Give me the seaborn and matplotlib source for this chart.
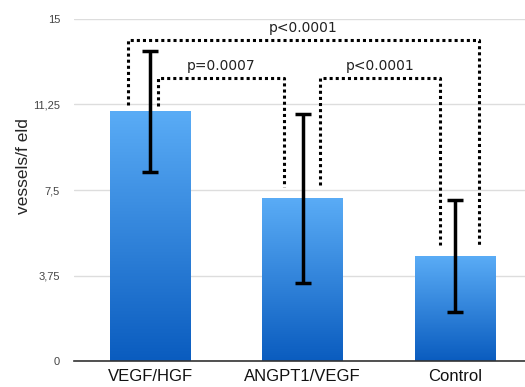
import numpy as np
import pandas as pd
import matplotlib
matplotlib.use("Agg")
import matplotlib.pyplot as plt
import seaborn as sns
from matplotlib.colors import LinearSegmentedColormap

groups = ["VEGF/HGF", "ANGPT1/VEGF", "Control"]
means = [10.95, 7.13, 4.6]
errors = [2.65, 3.7, 2.45]
yticks = [0, 3.75, 7.5, 11.25, 15]
ytick_labels = ["0", "3,75", "7,5", "11,25", "15"]

# comparisons: (left x, right x, left leg bottom, right leg bottom, top, label)
brackets = [
    (-0.143, 2.156, 11.23, 5.09, 14.08, "p<0.0001"),
    (0.05, 0.877, 11.18, 7.64, 12.43, "p=0.0007"),
    (1.112, 1.901, 7.72, 5.09, 12.43, "p<0.0001"),
]

sns.set_style("white")
plt.rcParams['font.family'] = ['Liberation Sans', 'DejaVu Sans']

fig = plt.figure(figsize=(5.25, 3.87), dpi=100)
ax = fig.add_axes([0.141, 0.067, 0.859, 0.884])

df = pd.DataFrame({"group": groups, "mean": means})
sns.barplot(data=df, x="group", y="mean", ax=ax, width=0.526,
            color="#2f86e0", saturation=1, errorbar=None, zorder=2)

# gradient fill on each bar
cmap = LinearSegmentedColormap.from_list("blu", ["#0a5cbf", "#5aacf6"])
grad = np.linspace(0, 1, 256).reshape(-1, 1)
for p in ax.patches:
    x0, y0 = p.get_x(), p.get_y()
    w, h = p.get_width(), p.get_height()
    im = ax.imshow(grad, cmap=cmap, aspect="auto", origin="lower",
                   extent=[x0, x0 + w, y0, y0 + h], zorder=2)
    im.set_clip_path(p)
    p.set_facecolor("none")
    p.set_edgecolor("none")

ax.errorbar(range(len(groups)), means, yerr=errors, fmt="none",
            ecolor="black", elinewidth=2.5, capsize=6, capthick=2.5, zorder=4)

for xl, xr, yl, yr, top, label in brackets:
    ax.plot([xl, xl, xr, xr], [yl, top, top, yr], color="black",
            linestyle=(0, (1, 1)), linewidth=2.2, zorder=5, clip_on=False)
    ax.text((xl + xr) / 2, top + 0.2, label, ha="center", va="bottom",
            fontsize=10, family="DejaVu Sans", color="#222222")

ax.set_xlim(-0.5, 2.46)
ax.set_ylim(0, 15)
ax.set_yticks(yticks)
ax.set_yticklabels(ytick_labels, fontsize=8, color="#444444")
ax.yaxis.grid(True, color="#dddddd", linewidth=1)
ax.set_axisbelow(True)
ax.tick_params(axis="y", length=0, pad=10)
ax.tick_params(axis="x", length=0, labelsize=12, labelcolor="#111111", pad=6)
ax.set_xlabel("")
ax.set_ylabel("vessels/f eld", fontsize=12.5)
ax.yaxis.set_label_coords(-0.095, 0.57)
for s in ["left", "right", "top"]:
    ax.spines[s].set_visible(False)
ax.spines["bottom"].set_color("#333333")
ax.spines["bottom"].set_linewidth(1.2)

fig.savefig("out.png", dpi=100)
